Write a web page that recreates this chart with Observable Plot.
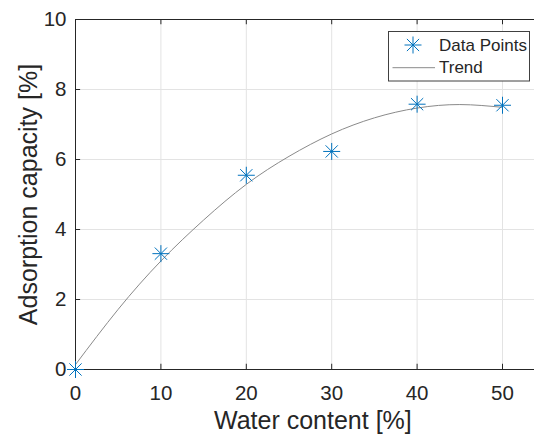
<!DOCTYPE html>
<html>
<head>
<meta charset="utf-8">
<script src="https://cdn.jsdelivr.net/npm/d3@7"></script>
<script src="https://cdn.jsdelivr.net/npm/@observablehq/plot@0.6"></script>
<style>
  body { margin: 0; background: #fff; }
  #wrap { position: relative; width: 534px; height: 437px; overflow: hidden; font-family: "Liberation Sans", Arial, sans-serif; }
  #legend { position: absolute; left: 388px; top: 31px; }
</style>
</head>
<body>
<div id="wrap"></div>
<script>
// Data points
const waterContent = [0, 10, 20, 30, 40, 50];
const adsorption = [0, 3.31, 5.55, 6.23, 7.58, 7.55];
// Trend curve
const trendX = [0, 5, 10, 15, 20, 25, 30, 35, 40, 45, 50];
const trendY = [0.14, 1.72, 3.1, 4.27, 5.29, 6.09, 6.73, 7.19, 7.47, 7.57, 7.49];
// Ticks
const xTicks = [0, 10, 20, 30, 40, 50];
const yTicks = [0, 2, 4, 6, 8, 10];

const points = waterContent.map((x, i) => ({x, y: adsorption[i]}));
const trend = trendX.map((x, i) => ({x, y: trendY[i]}));

const blue = "#0072BD";
const axisColor = "#262626";
const gridColor = "#e3e3e3";

const asterisk = {
  draw(ctx, size) {
    const r = Math.sqrt(size / Math.PI);
    const d = r * 0.72;
    ctx.moveTo(-r, 0); ctx.lineTo(r, 0);
    ctx.moveTo(0, -r); ctx.lineTo(0, r);
    ctx.moveTo(-d, -d); ctx.lineTo(d, d);
    ctx.moveTo(-d, d); ctx.lineTo(d, -d);
  }
};

const chart = Plot.plot({
  width: 534,
  height: 437,
  marginLeft: 75,
  marginTop: 19,
  marginBottom: 68,
  marginRight: 0,
  style: {fontFamily: "'Liberation Sans', Arial, sans-serif", background: "#fff", overflow: "hidden"},
  x: {domain: [0, 55], range: [75, 544.7]},
  y: {domain: [0, 10]},
  marks: [
    Plot.ruleX(xTicks.filter(d => d > 0), {stroke: gridColor, strokeWidth: 1}),
    Plot.ruleY(yTicks.filter(d => d > 0 && d < 10), {stroke: gridColor, strokeWidth: 1}),
    // inward ticks
    Plot.ruleX(xTicks, {y1: 0, y2: 0.15, stroke: axisColor}),
    Plot.ruleX(xTicks, {y1: 10, y2: 9.85, stroke: axisColor}),
    Plot.ruleY(yTicks, {x1: 0, x2: 0.6, stroke: axisColor}),
    // axes box
    Plot.ruleX([0], {stroke: axisColor}),
    Plot.ruleY([0], {stroke: axisColor}),
    Plot.ruleY([10], {stroke: axisColor}),
    Plot.axisX(xTicks, {tickSize: 0, tickPadding: 16, fontSize: 20.5, fill: axisColor, label: null}),
    Plot.axisY(yTicks, {tickSize: 0, tickPadding: 9, fontSize: 20.5, fill: axisColor, label: null}),
    Plot.line(trend, {x: "x", y: "y", curve: "natural", stroke: "#8a8a8a", strokeWidth: 1}),
    Plot.dot(points, {x: "x", y: "y", symbol: asterisk, r: 8.5, stroke: blue, strokeWidth: 1, fill: "none"}),
    Plot.text(["Water content [%]"], {frameAnchor: "bottom", dy: 59, fontSize: 25, fill: axisColor, x: () => 27.8}),
    Plot.text(["Adsorption capacity [%]"], {frameAnchor: "left", textAnchor: "middle", dx: -47, rotate: -90, fontSize: 25, fill: axisColor})
  ]
});

const wrap = document.getElementById("wrap");
wrap.appendChild(chart);

// Legend
const legend = document.createElement("div");
legend.id = "legend";
legend.innerHTML = `
<svg width="142" height="51" style="display:block">
  <rect x="0.5" y="0.5" width="141" height="49.5" fill="#fff" stroke="#404040" stroke-width="1"/>
  <path d="M16.5,14h17M25,5.5v17M18.9,7.9l12.2,12.2M18.9,20.1l12.2,-12.2" stroke="${blue}" stroke-width="1" fill="none"/>
  <line x1="4.5" y1="36.7" x2="47" y2="36.7" stroke="#8a8a8a" stroke-width="1"/>
  <text x="51" y="19.7" font-size="17" fill="${axisColor}" font-family="'Liberation Sans', Arial, sans-serif">Data Points</text>
  <text x="51" y="42.3" font-size="17" fill="${axisColor}" font-family="'Liberation Sans', Arial, sans-serif">Trend</text>
</svg>`;
wrap.appendChild(legend);
</script>
</body>
</html>
